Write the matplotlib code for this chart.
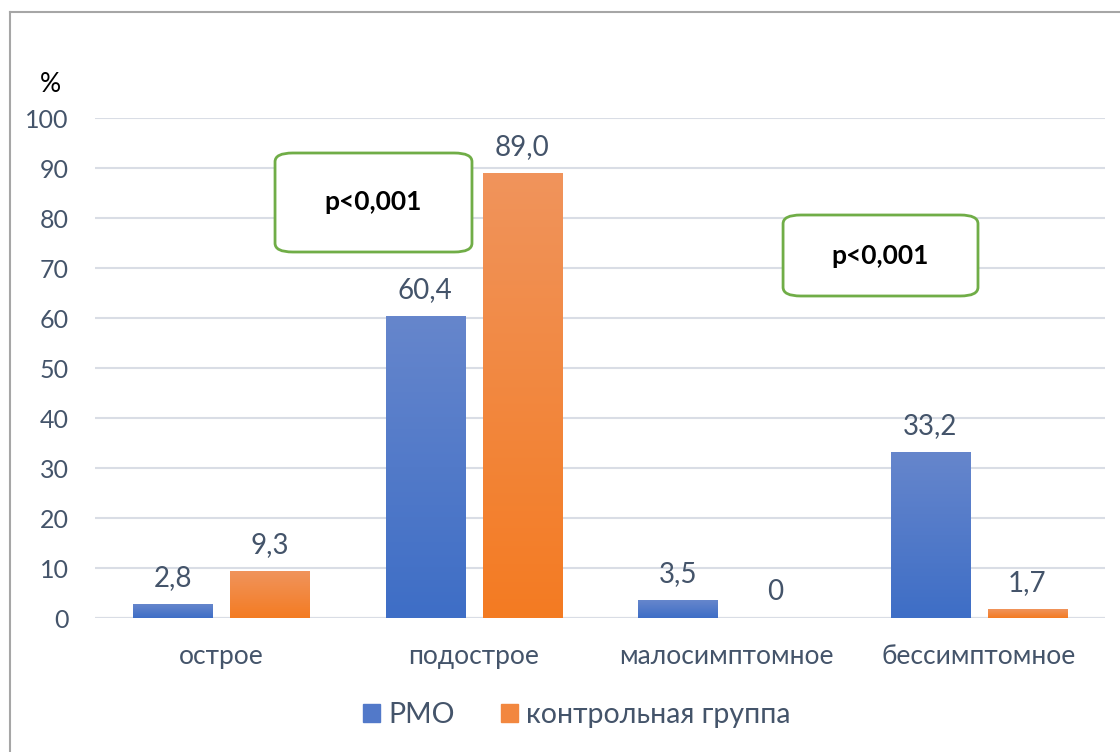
import numpy as np
import matplotlib.pyplot as plt
from matplotlib.colors import LinearSegmentedColormap
from matplotlib.patches import FancyBboxPatch, Patch
from matplotlib.lines import Line2D

categories = ['острое', 'подострое', 'малосимптомное', 'бессимптомное']
rmo = [2.8, 60.4, 3.5, 33.2]
control = [9.3, 89.0, 0, 1.7]
rmo_labels = ['2,8', '60,4', '3,5', '33,2']
control_labels = ['9,3', '89,0', '0', '1,7']
series_names = ['РМО', 'контрольная группа']

plt.rcParams['font.family'] = ['Lato', 'DejaVu Sans']
txt = '#44546a'

blue_cm = LinearSegmentedColormap.from_list('b', ['#3e6ec6', '#6686cc'])
orange_cm = LinearSegmentedColormap.from_list('o', ['#f47b22', '#f0945c'])

fig = plt.figure(figsize=(11.2, 7.52), dpi=100)
ax = fig.add_axes([95 / 1120, 1 - 618 / 752, 1010 / 1120, 500 / 752])

# рамка вокруг диаграммы
fig.add_artist(Line2D([10 / 1120, 10 / 1120], [0, 1 - 12 / 752], color='#a6a6a6', lw=1.5))
fig.add_artist(Line2D([10 / 1120, 1], [1 - 12 / 752, 1 - 12 / 752], color='#a6a6a6', lw=1.5))

x = np.arange(len(categories))
w = 0.313
off = 0.192
grad = np.linspace(0, 1, 256).reshape(-1, 1)

for i in range(len(categories)):
    for val, lab, dx, cm in [(rmo[i], rmo_labels[i], -off, blue_cm),
                             (control[i], control_labels[i], off, orange_cm)]:
        if val > 0:
            ax.imshow(grad, cmap=cm, origin='lower', aspect='auto',
                      extent=(x[i] + dx - w / 2, x[i] + dx + w / 2, 0, val), zorder=3)
        ax.text(x[i] + dx, val + 2.6, lab, ha='center', va='bottom',
                fontsize=20, color=txt)

ax.set_xlim(-0.5, 3.5)
ax.set_ylim(0, 100)
ax.set_yticks(range(0, 101, 10))
ax.set_xticks(x)
ax.set_xticklabels(categories)
ax.tick_params(axis='y', length=0, pad=19, labelsize=18, labelcolor=txt)
ax.tick_params(axis='x', length=0, pad=19, labelsize=19, labelcolor=txt)
ax.grid(axis='y', color='#d9dde5', lw=1.5, zorder=0)
for s in ax.spines.values():
    s.set_visible(False)
ax.axhline(0, color='#d9dde5', lw=1.5, zorder=2)

fig.text(50 / 1120, 1 - 85 / 752, '%', fontsize=19, color='black', ha='center', va='center')

# блоки с p-значениями
for (x0, x1, y0, y1) in [(0.213, 0.993, 73.2, 93.0), (2.225, 2.997, 64.4, 80.6)]:
    box = FancyBboxPatch((x0, y0), x1 - x0, y1 - y0,
                         boxstyle='round,pad=0,rounding_size=0.07',
                         mutation_aspect=25,
                         fc='white', ec='#70ad47', lw=2, zorder=4)
    ax.add_patch(box)
    ax.text((x0 + x1) / 2, (y0 + y1) / 2, 'p<0,001', ha='center', va='center',
            fontsize=19, fontweight='bold', color='black', zorder=5)

handles = [Patch(color='#5279c9'), Patch(color='#f2873f')]
fig.legend(handles, series_names, loc='center', bbox_to_anchor=(0.515, 1 - 715 / 752),
           ncol=2, frameon=False, fontsize=20.5, handlelength=0.6, handleheight=0.6,
           columnspacing=1.6, handletextpad=0.3, labelcolor=txt)

fig.savefig('out.png', dpi=100)
